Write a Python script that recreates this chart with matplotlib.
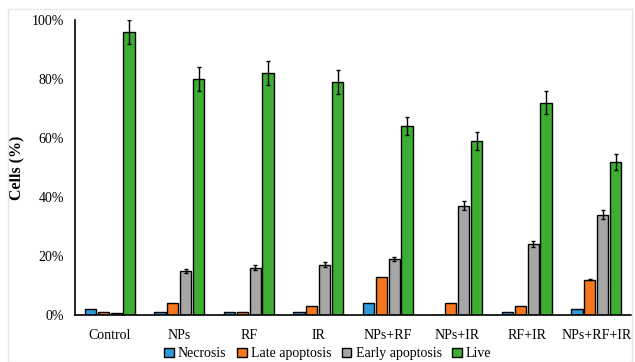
import matplotlib
matplotlib.use("Agg")
import matplotlib.pyplot as plt
import numpy as np
from matplotlib.patches import Rectangle

categories = ["Control", "NPs", "RF", "IR", "NPs+RF", "NPs+IR", "RF+IR", "NPs+RF+IR"]
series_names = ["Necrosis", "Late apoptosis", "Early apoptosis", "Live"]
necrosis = [2, 1, 1, 1, 4, 0, 1, 2]
late_apoptosis = [1, 4, 1, 3, 13, 4, 3, 12]
early_apoptosis = [0.8, 15, 16, 17, 19, 37, 24, 34]
live = [96, 80, 82, 79, 64, 59, 72, 52]
necrosis_err = [0, 0, 0, 0, 0, 0, 0, 0]
late_err = [0, 0, 0, 0, 0, 0, 0, 0.3]
early_err = [0, 0.7, 0.8, 0.8, 0.8, 1.5, 1.0, 1.5]
live_err = [4, 4, 4, 4, 3, 3, 3.8, 2.7]
yticks = [0, 20, 40, 60, 80, 100]

colors = ["#2e9ad8", "#f7781c", "#a6a6a6", "#3cae32"]

plt.rcParams['font.family'] = ['Liberation Serif', 'DejaVu Serif']

fig = plt.figure(figsize=(6.35, 3.62), dpi=100)
# light frame around figure
fig.patches.append(Rectangle((8/635, 0.0), 624/635, 1 - 9/362, transform=fig.transFigure,
                             fill=False, edgecolor="#e6e6e6", linewidth=1.0))
ax = fig.add_axes([75/635, 47/362, 556/635, 295/362])

x = np.arange(len(categories))
width = 0.16
step = 0.185
data = [necrosis, late_apoptosis, early_apoptosis, live]
errs = [necrosis_err, late_err, early_err, live_err]
for i, (vals, e, c, name) in enumerate(zip(data, errs, colors, series_names)):
    pos = x + (i - 1.5) * step
    ax.bar(pos, vals, width=width, color=c, edgecolor="black", linewidth=1.0, label=name, zorder=2)
    e_arr = np.array(e)
    mask = e_arr > 0
    if mask.any():
        ax.errorbar(pos[mask], np.array(vals)[mask], yerr=e_arr[mask], fmt="none",
                    ecolor="black", elinewidth=1.0, capsize=1.5, capthick=1.0, zorder=3)

ax.set_xlim(-0.5, len(categories) - 0.5)
ax.set_ylim(0, 100)
ax.set_yticks(yticks)
ax.set_yticklabels([f"{t}%" for t in yticks], fontsize=10)
ax.set_xticks(x)
ax.set_xticklabels(categories, fontsize=10)
ax.tick_params(axis="x", length=0, pad=10)
ax.tick_params(axis="y", length=0, pad=8)
ax.spines["top"].set_visible(False)
ax.spines["right"].set_visible(False)
ax.spines["left"].set_linewidth(1.2)
ax.spines["bottom"].set_linewidth(1.2)
ax.set_ylabel("Cells (%)", fontsize=11.5, fontweight="bold", labelpad=5)

fig.legend(loc="lower center", bbox_to_anchor=(0.516, -0.03), ncol=4, frameon=False,
           fontsize=10, handlelength=0.7, handleheight=0.7, handletextpad=0.3,
           columnspacing=0.75)

fig.savefig("out.png", dpi=100)
